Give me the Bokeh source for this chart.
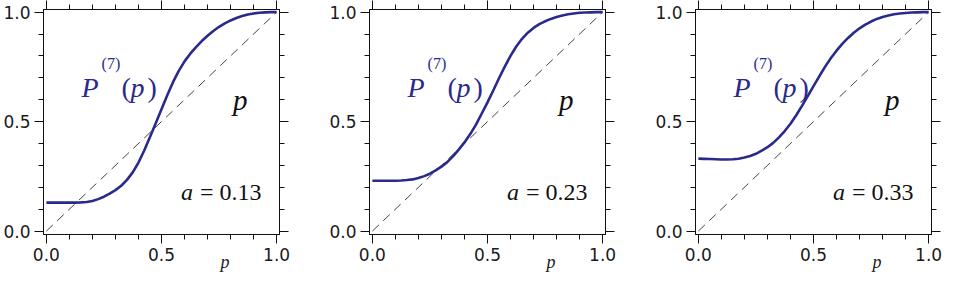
from bokeh.plotting import figure
from bokeh.models import Range1d, FixedTicker, LinearAxis, Label, PrintfTickFormatter
from bokeh.layouts import row
from bokeh.embed import file_html
from bokeh.resources import INLINE

# ---- data ----
p_grid = [0.000, 0.025, 0.050, 0.075, 0.100, 0.125, 0.150, 0.175, 0.200, 0.225,
          0.250, 0.275, 0.300, 0.325, 0.350, 0.375, 0.400, 0.425, 0.450, 0.475,
          0.500, 0.525, 0.550, 0.575, 0.600, 0.625, 0.650, 0.675, 0.700, 0.725,
          0.750, 0.775, 0.800, 0.825, 0.850, 0.875, 0.900, 0.925, 0.950, 0.975, 1.000]
curve_a013 = [0.130, 0.130, 0.130, 0.130, 0.130, 0.130, 0.131, 0.133, 0.137, 0.146,
              0.157, 0.171, 0.187, 0.207, 0.234, 0.268, 0.313, 0.368, 0.430, 0.493,
              0.556, 0.620, 0.680, 0.732, 0.775, 0.810, 0.840, 0.868, 0.892, 0.914,
              0.933, 0.949, 0.962, 0.973, 0.982, 0.989, 0.994, 0.997, 0.999, 1.000, 1.000]
curve_a023 = [0.230, 0.230, 0.230, 0.230, 0.230, 0.231, 0.233, 0.236, 0.242, 0.251,
              0.262, 0.277, 0.294, 0.315, 0.341, 0.372, 0.405, 0.443, 0.486, 0.537,
              0.588, 0.642, 0.698, 0.751, 0.800, 0.843, 0.878, 0.906, 0.928, 0.945,
              0.958, 0.969, 0.978, 0.985, 0.990, 0.994, 0.997, 0.998, 0.999, 1.000, 1.000]
curve_a033 = [0.331, 0.330, 0.329, 0.328, 0.327, 0.327, 0.328, 0.330, 0.336, 0.343,
              0.353, 0.367, 0.383, 0.403, 0.428, 0.457, 0.490, 0.529, 0.572, 0.616,
              0.662, 0.707, 0.750, 0.789, 0.824, 0.855, 0.882, 0.906, 0.926, 0.943,
              0.957, 0.969, 0.978, 0.985, 0.990, 0.994, 0.996, 0.998, 0.999, 1.000, 1.000]
a_labels = ["0.13", "0.23", "0.33"]
diag_x = [0.0, 1.0]
diag_y = [0.0, 1.0]
major_ticks = [0.0, 0.5, 1.0]
minor_ticks = [0.0, 0.1, 0.2, 0.3, 0.4, 0.5, 0.6, 0.7, 0.8, 0.9, 1.0]
x_name_at = [0.776]   # where the axis name "p" sits along the x axis

BLUE = "#2a2a8c"
SERIF = "Liberation Serif"
INK = "#111111"


def style_axis(ax, labels):
    ax.ticker = FixedTicker(ticks=major_ticks, minor_ticks=minor_ticks)
    ax.major_tick_out = 9
    ax.major_tick_in = 0
    ax.minor_tick_out = 5
    ax.minor_tick_in = 0
    ax.axis_line_color = INK
    ax.major_tick_line_color = INK
    ax.minor_tick_line_color = INK
    ax.axis_line_width = 1
    if labels:
        ax.formatter = PrintfTickFormatter(format="%.1f")
        ax.major_label_text_font = "DejaVu Sans"
        ax.major_label_text_font_size = "17px"
        ax.major_label_text_color = "#1a1a1a"
        ax.major_label_standoff = 4
    else:
        ax.major_label_text_font_size = "1px"
        ax.major_label_text_color = None
        ax.major_label_standoff = 0


def make_panel(curve, a_text, width, right_border):
    f = figure(width=width, height=274,
               x_range=Range1d(-0.0125, 1.0125), y_range=Range1d(-0.0156, 1.012),
               output_backend="svg", toolbar_location=None,
               min_border_left=37, min_border_right=right_border,
               min_border_top=9, min_border_bottom=0)
    f.grid.grid_line_color = None
    f.outline_line_color = INK
    f.background_fill_color = "white"
    f.border_fill_color = "white"

    style_axis(f.xaxis[0], True)
    style_axis(f.yaxis[0], True)
    top = LinearAxis()
    right = LinearAxis()
    style_axis(top, False)
    style_axis(right, False)
    f.add_layout(top, "above")
    f.add_layout(right, "right")

    # axis name "p" under the tick labels, placed through the x scale
    name_axis = LinearAxis(ticker=FixedTicker(ticks=x_name_at, minor_ticks=[]),
                           formatter=PrintfTickFormatter(format="p"),
                           axis_line_color=None, major_tick_line_color=None,
                           minor_tick_line_color=None, major_tick_out=0, major_tick_in=0,
                           minor_tick_out=0, minor_tick_in=0,
                           major_label_standoff=-12,
                           major_label_text_font=SERIF, major_label_text_font_style="italic",
                           major_label_text_font_size="18px", major_label_text_color="#222222")
    f.add_layout(name_axis, "below")

    f.line(diag_x, diag_y, line_color="#444444", line_width=1, line_dash="9 6")
    f.line(p_grid, curve, line_color=BLUE, line_width=2.6)

    # P^(7)(p) label
    bx, by = 0.153, 0.655
    f.add_layout(Label(x=bx, y=by, text="P", text_font=SERIF, text_font_style="italic",
                       text_font_size="28px", text_color=BLUE, text_baseline="alphabetic"))
    f.add_layout(Label(x=bx, y=by, x_offset=20, y_offset=24, text="(7)", text_font=SERIF,
                       text_font_size="16px", text_color=BLUE, text_baseline="alphabetic"))
    f.add_layout(Label(x=bx, y=by, x_offset=40, text="(", text_font=SERIF,
                       text_font_size="28px", text_color=BLUE, text_baseline="alphabetic"))
    f.add_layout(Label(x=bx, y=by, x_offset=49, text="p", text_font=SERIF, text_font_style="italic",
                       text_font_size="28px", text_color=BLUE, text_baseline="alphabetic"))
    f.add_layout(Label(x=bx, y=by, x_offset=66, text=")", text_font=SERIF,
                       text_font_size="28px", text_color=BLUE, text_baseline="alphabetic"))

    # p label for the diagonal
    f.add_layout(Label(x=0.81, y=0.60, text="p", text_font=SERIF, text_font_style="italic",
                       text_font_size="29px", text_color=INK, text_baseline="alphabetic"))

    # a = value
    f.add_layout(Label(x=0.585, y=0.18, text="a", text_font=SERIF, text_font_style="italic",
                       text_font_size="24px", text_color=INK, text_baseline="alphabetic"))
    f.add_layout(Label(x=0.585, y=0.18, x_offset=19, text="= " + a_text, text_font=SERIF,
                       text_font_size="24px", text_color=INK, text_baseline="alphabetic"))
    return f


p1 = make_panel(curve_a013, a_labels[0], 326, 47)
p2 = make_panel(curve_a023, a_labels[1], 326, 47)
p3 = make_panel(curve_a033, a_labels[2], 290, 11)

layout = row(p1, p2, p3)
open("out.html", "w").write(file_html(layout, INLINE))
